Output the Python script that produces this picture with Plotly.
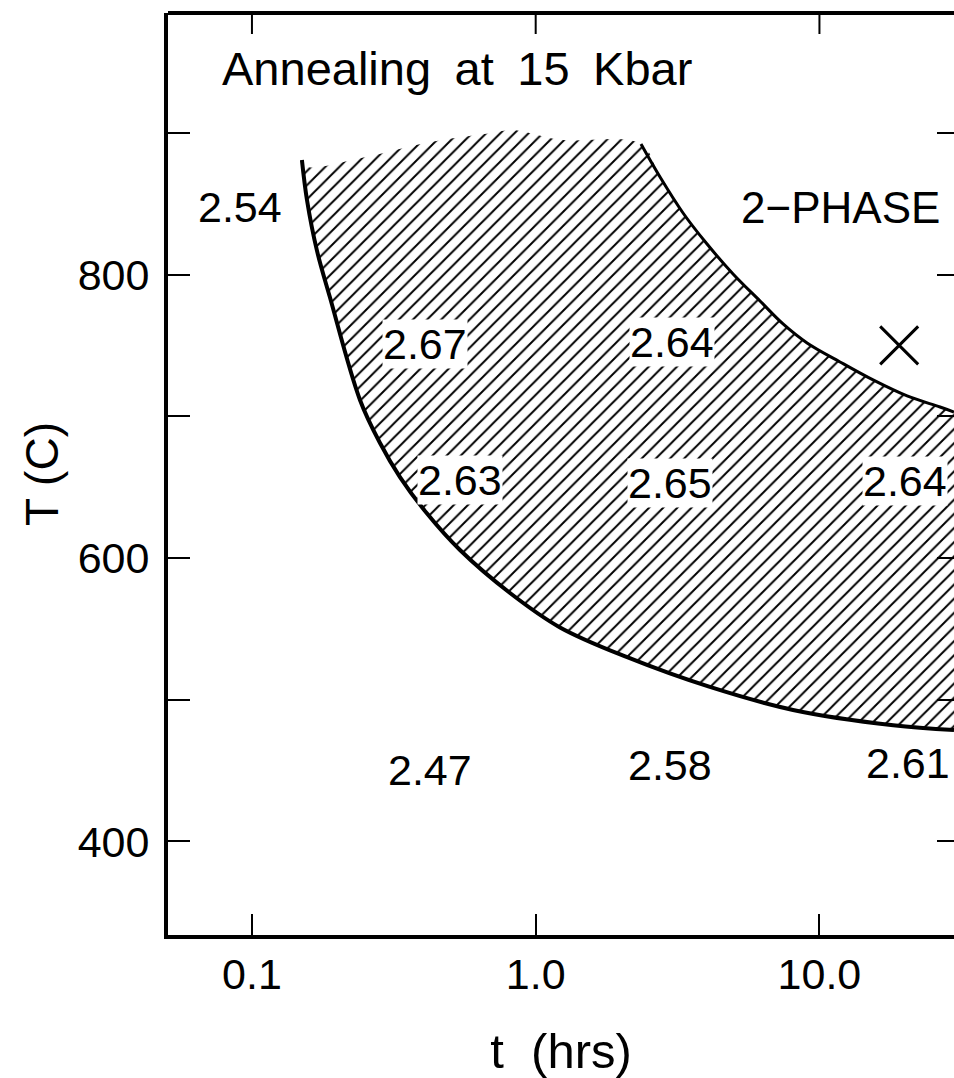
import numpy as np
import plotly.graph_objects as go

# ---- data ----
lower_t = [0.150, 0.1563, 0.1694, 0.1883, 0.2403, 0.2827, 0.3324, 0.4127, 0.541, 0.8117,
           1.218, 2.10, 4.11, 8.07, 18.2, 29.8]
lower_T = [880.8, 852.6, 817.0, 783.9, 711.5, 681.1, 657.1, 631.7, 605.6, 575.3,
           551, 530, 509, 492.8, 482, 478.6]

upper_t = [2.350, 2.743, 3.306, 4.017, 4.961, 6.175, 7.443, 9.045, 11.82, 15.45, 20.37, 26.61, 29.8]
upper_T = [892.1, 868.8, 843.4, 821.5, 800.4, 781.3, 765.1, 751.7, 738.3, 725.6, 714.3, 706.5, 703.0]

hatch_top_t = [0.150, 0.1563, 0.254, 0.413, 0.707, 0.83, 1.22]
hatch_top_T = [880.8, 876, 883, 893, 900, 902, 895]

marker_t = [19.1]
marker_T = [750]

label_text = ["2.54", "2.67", "2.63", "2.64", "2.65", "2.64", "2.47", "2.58", "2.61"]
label_t = [0.0907, 0.4074, 0.541, 3.02, 2.975, 20.03, 0.424, 2.975, 20.5]
label_T = [847.6, 751.0, 655.0, 752.4, 652.9, 654.3, 450.4, 454.0, 455.4]
label_boxed = [False, True, True, True, True, True, False, False, False]

title_text = "Annealing\u2002at\u200215\u2002Kbar"
title_t, title_T = 0.528, 945
phase_text = "2\u2212PHASE"
phase_t, phase_T = 11.82, 847.6

x_tickvals = [0.1, 1.0, 10.0]
x_ticktext = ["0.1", "1.0", "10.0"]
y_tickvals = [400, 500, 600, 700, 800, 900]
y_ticktext = ["400", "", "600", "", "800", ""]

FONT = "Liberation Sans, Arial, sans-serif"
X_RANGE = [np.log10(0.0506), np.log10(29.8)]
Y_RANGE = [334, 984.5]
PLOT_H = 1078 - 13 - 143

fig = go.Figure()

# invisible base for hatch fill
fig.add_trace(go.Scatter(x=lower_t, y=lower_T, mode="lines",
                         line=dict(width=0, shape="spline", smoothing=1.0, color="black"),
                         hoverinfo="skip", showlegend=False))
# hatched region (top boundary = hatch top + upper curve)
fig.add_trace(go.Scatter(x=hatch_top_t + upper_t, y=hatch_top_T + upper_T, mode="lines",
                         line=dict(width=0, shape="spline", smoothing=1.0, color="black"),
                         fill="tonexty", fillcolor="rgba(0,0,0,0)",
                         fillpattern=dict(shape="/", fgcolor="black", bgcolor="rgba(0,0,0,0)",
                                          fgopacity=1, size=10, solidity=0.2),
                         hoverinfo="skip", showlegend=False))
# boundary curves
fig.add_trace(go.Scatter(x=lower_t, y=lower_T, mode="lines",
                         line=dict(width=4, shape="spline", smoothing=1.0, color="black"),
                         showlegend=False))
fig.add_trace(go.Scatter(x=upper_t, y=upper_T, mode="lines",
                         line=dict(width=3, shape="spline", smoothing=1.0, color="black"),
                         showlegend=False))
# X marker (on the right-hand axis, which shares the same range)
fig.add_trace(go.Scatter(x=marker_t, y=marker_T, mode="markers", yaxis="y2",
                         marker=dict(symbol="x-thin", size=38, color="black",
                                     line=dict(width=3, color="black")),
                         showlegend=False))

for txt, t, T, boxed in zip(label_text, label_t, label_T, label_boxed):
    fig.add_annotation(x=np.log10(t), y=T, xref="x", yref="y", text=txt, showarrow=False,
                       font=dict(family=FONT, size=43, color="black"),
                       bgcolor="white" if boxed else None, borderpad=0,
                       xanchor="center", yanchor="middle")

fig.add_annotation(x=np.log10(title_t), y=title_T, xref="x", yref="y", text=title_text,
                   showarrow=False, font=dict(family=FONT, size=47, color="black"),
                   xanchor="center", yanchor="middle")
fig.add_annotation(x=np.log10(phase_t), y=phase_T, xref="x", yref="y", text=phase_text,
                   showarrow=False, font=dict(family=FONT, size=44, color="black"),
                   xanchor="center", yanchor="middle")

# top frame edge and its inward ticks
fig.add_shape(type="line", xref="paper", yref="paper", x0=0, x1=1, y0=1, y1=1,
              line=dict(color="black", width=4), layer="above")
for v in x_tickvals:
    fig.add_shape(type="line", xref="x", yref="paper", x0=v, x1=v, y0=1, y1=1 - 21 / PLOT_H,
                  line=dict(color="black", width=2), layer="above")

fig.update_layout(
    width=954, height=1078,
    margin=dict(l=168, r=0, t=13, b=143),
    paper_bgcolor="white", plot_bgcolor="white",
    font=dict(family=FONT, color="black"),
    xaxis=dict(type="log", range=X_RANGE,
               tickvals=x_tickvals, ticktext=x_ticktext,
               ticks="inside", ticklen=21, tickwidth=2, tickcolor="black",
               showline=True, linewidth=4, linecolor="black", mirror=False,
               showgrid=False, zeroline=False,
               tickfont=dict(family=FONT, size=43),
               ticklabelstandoff=-2,
               title=dict(text="t\u00a0\u00a0(hrs)", font=dict(family=FONT, size=49), standoff=38)),
    yaxis=dict(range=Y_RANGE, tickvals=y_tickvals, ticktext=y_ticktext,
               ticks="inside", ticklen=22, tickwidth=2, tickcolor="black",
               showline=True, linewidth=4, linecolor="black", mirror=False,
               showgrid=False, zeroline=False,
               tickfont=dict(family=FONT, size=43),
               ticklabelstandoff=6,
               title=dict(text="T (C)", font=dict(family=FONT, size=46), standoff=6)),
    yaxis2=dict(range=Y_RANGE, overlaying="y", side="right",
                tickvals=y_tickvals, ticks="inside", ticklen=17, tickwidth=2, tickcolor="black",
                showticklabels=False, showline=False, showgrid=False, zeroline=False),
)

fig.write_html("out.html", config={"displayModeBar": False},
               post_script="document.body.style.margin='0';document.body.style.overflow='hidden';")
